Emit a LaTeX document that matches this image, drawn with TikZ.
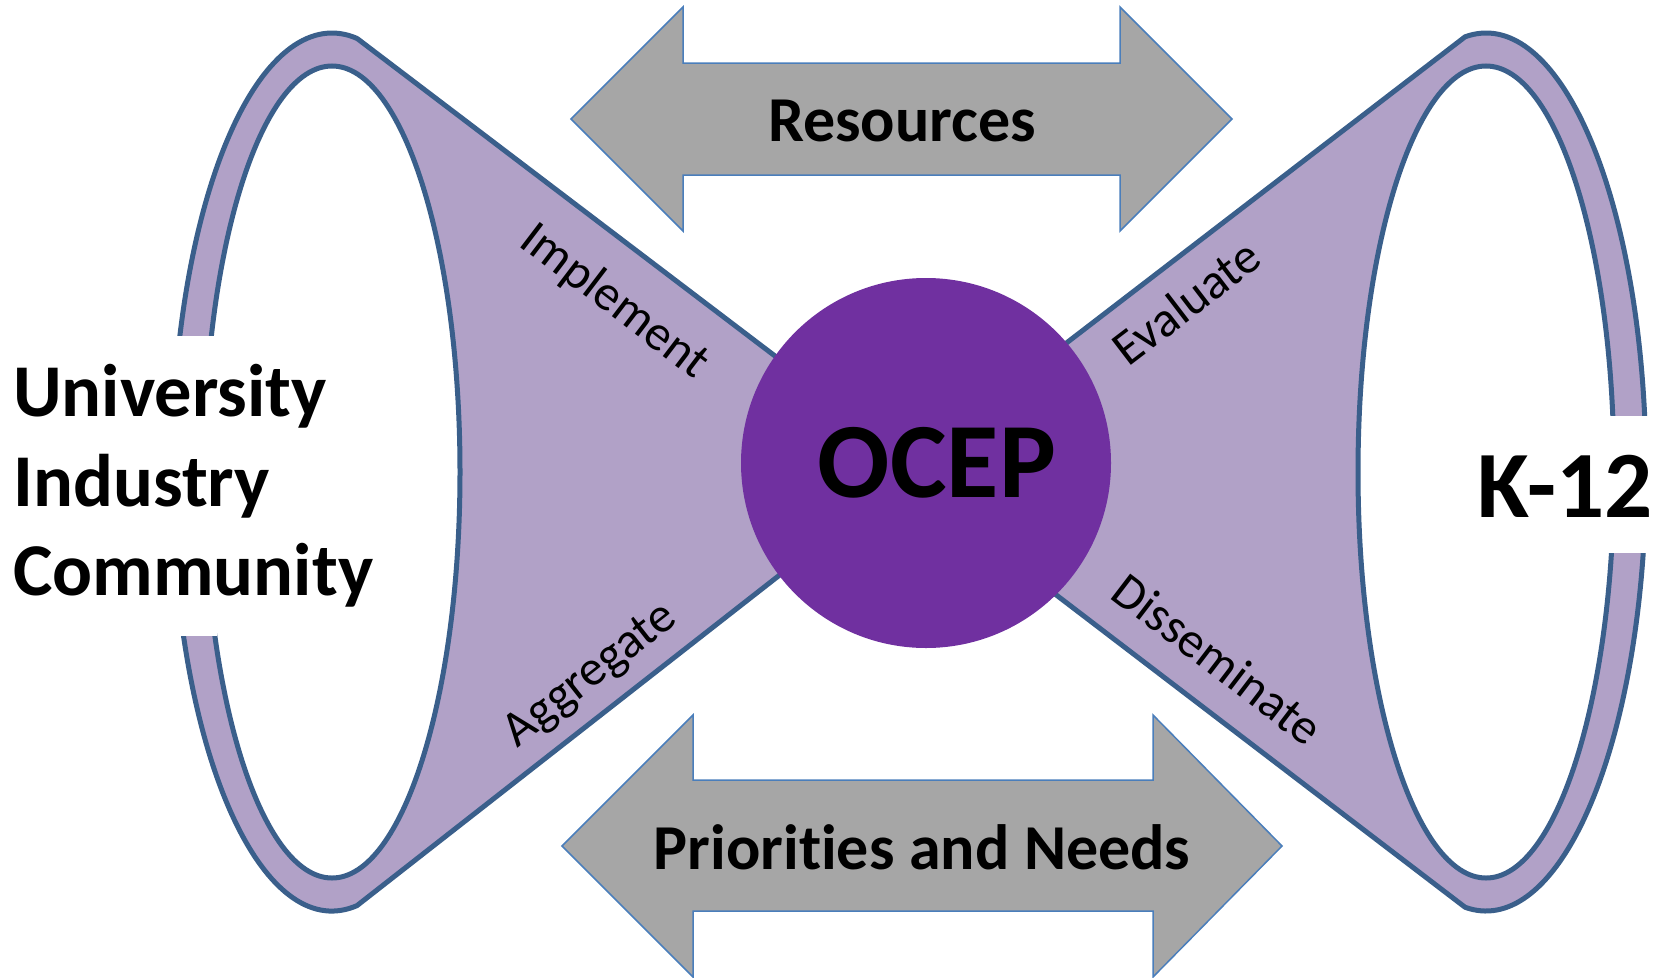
\documentclass[tikz,border=0pt]{standalone}
\usepackage{fontspec}
\setmainfont{Carlito}[Ligatures={NoCommon}]
\definecolor{ringblue}{HTML}{3A5F8B}
\definecolor{lilac}{HTML}{B1A1C7}
\definecolor{arrowgray}{HTML}{A6A6A6}
\definecolor{arrowblue}{HTML}{4A7EBB}
\definecolor{ocepurple}{HTML}{7030A0}
\begin{document}
\begin{tikzpicture}[x=1pt,y=1pt,
  ring/.style={draw=ringblue, line width=5pt, fill=lilac, line join=round},
  hole/.style={draw=ringblue, line width=5pt, fill=white},
  twoway/.style={draw=arrowblue, line width=1.5pt, fill=arrowgray, line join=miter},
  arrowtext/.style={font=\fontsize{64}{76}\selectfont\bfseries, inner sep=0pt},
  sidetext/.style={font=\fontsize{74.5}{90}\selectfont\bfseries, inner sep=0pt},
  verb/.style={font=\fontsize{50}{60}\selectfont, inner sep=0pt},
  cover/.style={fill=white, draw=none}
]
\useasboundingbox (0,0) rectangle (1661,-977);
% two-way arrows
\draw[twoway] (571,-119) -- (683,-7) -- (683,-63) -- (1120,-63) -- (1120,-7) -- (1232,-119)
  -- (1120,-231) -- (1120,-175) -- (683,-175) -- (683,-231) -- cycle;
\draw[twoway] (562,-846) -- (693,-715) -- (693,-780) -- (1153,-780) -- (1153,-715) -- (1282,-846)
  -- (1153,-977) -- (1153,-911) -- (693,-911) -- (693,-977) -- cycle;
% left funnel
\draw[ring] (357.0,-38.4) -- (850,-413) -- (850,-520) -- (357.0,-905.6)
  arc[start angle=-81, end angle=-279, x radius=160, y radius=439] -- cycle;
\draw[hole] (332,-472) ellipse [x radius=128, y radius=406];
% right funnel
\draw[ring] (1000,-394) -- (1465.1,-36.8)
  arc[start angle=97.5, end angle=-97.5, x radius=160, y radius=439] -- (1000,-552) -- cycle;
\draw[hole] (1486,-472) ellipse [x radius=128, y radius=406];
% centre circle
\node[circle, fill=ocepurple, minimum size=370pt, inner sep=0pt] (hub) at (926,-463) {};
\node[font=\fontsize{107}{120}\selectfont\bfseries, inner sep=0pt] (ocep) at (937,-463) {OCEP};
% white boxes behind side labels
\fill[cover] (0,-336) rectangle (217,-636);
\fill[cover] (1440,-416) rectangle (1661,-553);
% side labels
\node[sidetext, anchor=base west] (uni) at (13,-416) {University};
\node[sidetext, anchor=base west] (ind) at (13,-506) {Industry};
\node[sidetext, anchor=base west] (com) at (13,-595) {Community};
\node[font=\fontsize{95}{110}\selectfont\bfseries, inner sep=0pt, anchor=base] (k12) at (1565,-517) {K-12};
% arrow labels
\node[arrowtext, anchor=base] (res) at (902,-141) {Resources};
\node[arrowtext, anchor=base] (pri) at (922,-869) {Priorities and Needs};
% funnel verbs
\node[verb, rotate=-37.3] (impl) at (614,-302) {Implement};
\node[verb, rotate=38.1] (aggr) at (591,-676) {Aggregate};
\node[verb, rotate=37.4] (eval) at (1186,-302) {Evaluate};
\node[verb, rotate=-37.4] (diss) at (1218,-659) {Disseminate};
\end{tikzpicture}
\end{document}
